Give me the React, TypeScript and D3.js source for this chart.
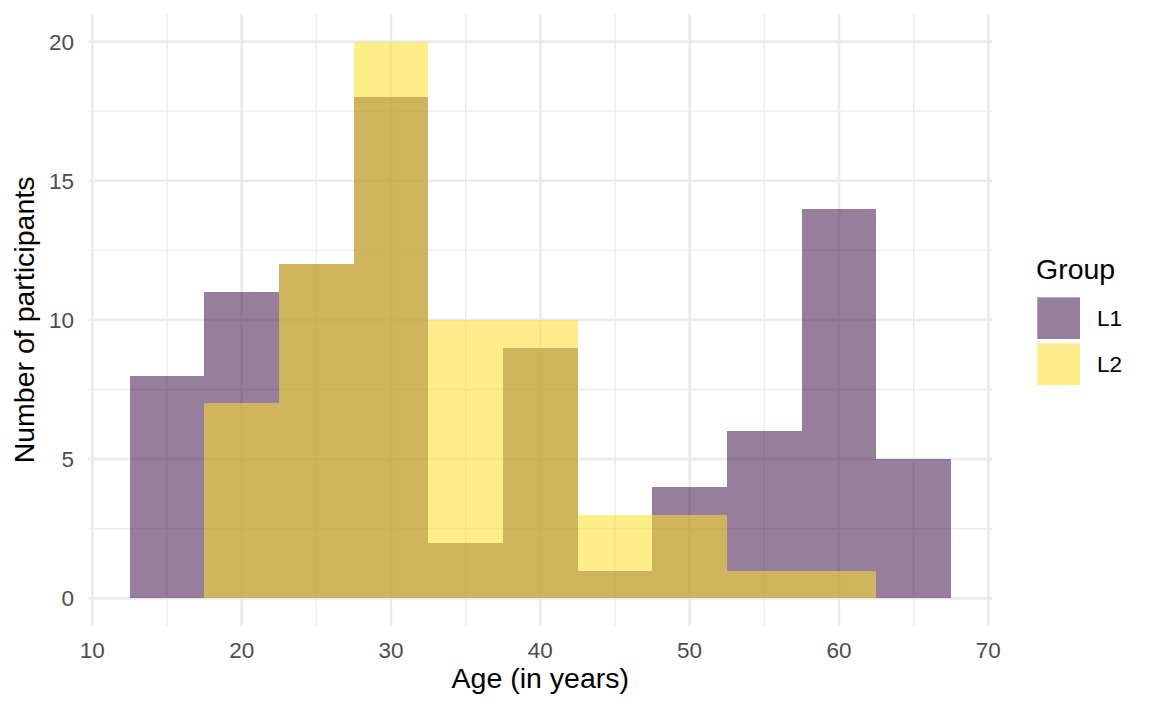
import React from "react";
import * as d3 from "d3";

const binStarts = [12.5, 17.5, 22.5, 27.5, 32.5, 37.5, 42.5, 47.5, 52.5, 57.5, 62.5];
const binWidth = 5;
const l1Counts = [8, 11, 12, 18, 2, 9, 1, 4, 6, 14, 5];
const l2Counts = [0, 7, 12, 20, 10, 10, 3, 3, 1, 1, 0];
const groups = ["L1", "L2"];
const groupColors = ["rgb(66,20,75)", "rgb(251,224,42)"];
const xTicks = [10, 20, 30, 40, 50, 60, 70];
const xMinor = [15, 25, 35, 45, 55, 65];
const yTicks = [0, 5, 10, 15, 20];
const yMinor = [2.5, 7.5, 12.5, 17.5];

const W = 1152;
const H = 711;
const FONT = "'Liberation Sans', Arial, sans-serif";
const ALPHA = 0.55;

export default function App() {
  const x = d3.scaleLinear().domain([9.75, 70.25]).range([88.6, 992]);
  const y = d3.scaleLinear().domain([-1, 21]).range([626.2, 13.7]);
  const left = x.range()[0], right = x.range()[1];
  const top = y.range()[1], bottom = y.range()[0];
  const series = [l1Counts, l2Counts];
  const grid = "#EBEBEB";

  return (
    <svg width={W} height={H} style={{ position: "absolute", left: 0, top: 0, background: "#fff" }} fontFamily={FONT}>
      <rect x={0} y={0} width={W} height={H} fill="#fff" />
      {xMinor.map((v) => (
        <line key={"xm" + v} x1={x(v)} x2={x(v)} y1={top} y2={bottom} stroke={grid} strokeWidth={1.4} />
      ))}
      {yMinor.map((v) => (
        <line key={"ym" + v} x1={left} x2={right} y1={y(v)} y2={y(v)} stroke={grid} strokeWidth={1.4} />
      ))}
      {xTicks.map((v) => (
        <line key={"xM" + v} x1={x(v)} x2={x(v)} y1={top} y2={bottom} stroke={grid} strokeWidth={2.7} />
      ))}
      {yTicks.map((v) => (
        <line key={"yM" + v} x1={left} x2={right} y1={y(v)} y2={y(v)} stroke={grid} strokeWidth={2.7} />
      ))}
      {series.map((counts, gi) => (
        <g key={"s" + gi} shapeRendering="crispEdges">
          {counts.map((c, i) =>
            c > 0 ? (
              <rect
                key={i}
                x={x(binStarts[i])}
                width={x(binStarts[i] + binWidth) - x(binStarts[i])}
                y={y(c)}
                height={y(0) - y(c)}
                fill={groupColors[gi]}
                fillOpacity={ALPHA}
              />
            ) : null
          )}
        </g>
      ))}
      {xTicks.map((v) => (
        <text key={"xt" + v} x={x(v)} y={658} textAnchor="middle" fontSize={22.5} fill="#4D4D4D">
          {v}
        </text>
      ))}
      {yTicks.map((v) => (
        <text key={"yt" + v} x={74} y={y(v)} dy="0.36em" textAnchor="end" fontSize={22.5} fill="#4D4D4D">
          {v}
        </text>
      ))}
      <text x={(left + right) / 2} y={688} textAnchor="middle" fontSize={28.5} fill="#000">
        Age (in years)
      </text>
      <text
        transform={`translate(34,${(top + bottom) / 2}) rotate(-90)`}
        textAnchor="middle"
        fontSize={28.5}
        fill="#000"
      >
        Number of participants
      </text>
      <text x={1036} y={279} fontSize={28.5} fill="#000">
        Group
      </text>
      {groups.map((g, i) => (
        <g key={g}>
          <rect x={1037.3} y={297.3 + i * 46} width={42.7} height={41.7} fill={groupColors[i]} fillOpacity={ALPHA} />
          <text x={1097} y={318 + i * 46} dy="0.36em" fontSize={22.5} fill="#000">
            {g}
          </text>
        </g>
      ))}
    </svg>
  );
}
